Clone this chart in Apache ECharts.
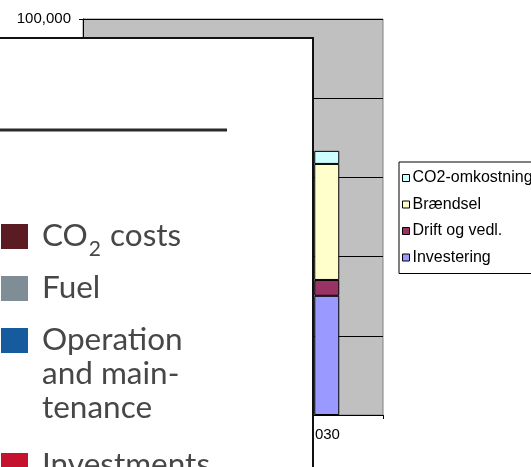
<!DOCTYPE html>
<html>
<head>
<meta charset="utf-8">
<script src="https://cdn.jsdelivr.net/npm/echarts@6/dist/echarts.min.js"></script>
<style>html,body{margin:0;padding:0;background:#fff}#c{width:531px;height:467px}</style>
</head>
<body>
<div id="c"></div>
<script>
// ---- data ----
const categories = ['', '', '', '', '', '', '2030', ''];
const investering = [null, null, null, null, null, null, 30100, null];
const driftOgVedl = [null, null, null, null, null, null, 4000, null];
const braendsel = [null, null, null, null, null, null, 29300, null];
const co2Omkostninger = [null, null, null, null, null, null, 3300, null];
const seriesNames = ['Investering', 'Drift og vedl.', 'Brændsel', 'CO2-omkostninger'];
const yMin = 0, yMax = 100000, yStep = 20000;
// labels of the pasted legend picture lying over the chart
const overlayLabels = [['CO', '2', ' costs'], 'Fuel', 'Operation\nand main-\ntenance', 'Investments'];
const overlayColors = ['#5b1b22', '#7e8d96', '#165b9d', '#c4122f'];

const chart = echarts.init(document.getElementById('c'), null, {renderer: 'canvas'});
const colors = ['#9999ff', '#993366', '#ffffcc', '#ccffff'];
const values = [investering, driftOgVedl, braendsel, co2Omkostninger];

const series = seriesNames.map((n, i) => ({
  name: n, type: 'bar', stack: 'total', data: values[i], barWidth: 25,
  itemStyle: {color: colors[i], borderColor: '#000', borderWidth: 1},
  emphasis: {disabled: true}
}));

// overlay graphics
const ovFont = 'Lato, "Open Sans", sans-serif';
const ovText = '#474747';
const ovSize = 31.5, subSize = 21;
const mctx = document.createElement('canvas').getContext('2d');
function tw(t, size) { mctx.font = size + 'px ' + ovFont; return mctx.measureText(t).width; }

const graphics = [
  {type: 'rect', z: 100, shape: {x: 0, y: 38, width: 313, height: 440}, style: {fill: '#fff'}},
  {type: 'line', z: 101, shape: {x1: 0, y1: 38, x2: 313, y2: 38}, style: {stroke: '#111', lineWidth: 2}},
  {type: 'line', z: 101, shape: {x1: 313, y1: 37, x2: 313, y2: 467}, style: {stroke: '#111', lineWidth: 2}},
  {type: 'rect', z: 101, shape: {x: 0, y: 128.5, width: 227, height: 3}, style: {fill: '#2a2a2a'}}
];
const rowTops = [224, 276, 328, 453];
const textLeft = 42;
overlayLabels.forEach((lab, i) => {
  const top = rowTops[i] - 5;
  graphics.push({type: 'rect', z: 101, shape: {x: 1, y: rowTops[i], width: 27, height: 25}, style: {fill: overlayColors[i]}});
  if (Array.isArray(lab)) {
    const w0 = tw(lab[0], ovSize), w1 = tw(lab[1], subSize);
    graphics.push({type: 'text', z: 102, x: textLeft, y: top,
      style: {text: lab[0], fontSize: ovSize, fontFamily: ovFont, fill: ovText, lineHeight: 34}});
    graphics.push({type: 'text', z: 102, x: textLeft + w0 + 1, y: rowTops[i] + 14.5,
      style: {text: lab[1], fontSize: subSize, fontFamily: ovFont, fill: ovText, lineHeight: 21}});
    graphics.push({type: 'text', z: 102, x: textLeft + w0 + w1 + 2, y: top,
      style: {text: lab[2], fontSize: ovSize, fontFamily: ovFont, fill: ovText, lineHeight: 34}});
  } else {
    graphics.push({type: 'text', z: 102, x: textLeft, y: top,
      style: {text: lab, fontSize: ovSize, fontFamily: ovFont, fill: ovText, lineHeight: 34}});
  }
});

chart.setOption({
  animation: false,
  textStyle: {fontFamily: '"Liberation Sans", Arial, sans-serif'},
  grid: {left: 83, top: 19, width: 300, height: 396, show: true, backgroundColor: '#c0c0c0', borderColor: '#808080', borderWidth: 1},
  legend: {
    orient: 'vertical', left: 399, top: 162,
    data: seriesNames.slice().reverse(),
    icon: 'rect', itemWidth: 7, itemHeight: 7, itemGap: 10.5,
    padding: [8, 40, 8, 3],
    borderColor: '#000', borderWidth: 1, backgroundColor: '#fff',
    itemStyle: {borderColor: '#000', borderWidth: 1},
    textStyle: {fontSize: 16, color: '#000', fontFamily: '"Liberation Sans", Arial, sans-serif', padding: [0, 0, 0, -2]},
    selectedMode: false
  },
  xAxis: {
    type: 'category', data: categories,
    axisLine: {lineStyle: {color: '#000', width: 1}},
    axisTick: {show: true, interval: 1, length: 4, lineStyle: {color: '#000'}},
    axisLabel: {interval: 1, fontSize: 15, color: '#000', margin: 12, padding: [0, 7, 0, 0]},
    splitLine: {show: false}
  },
  yAxis: {
    type: 'value', min: yMin, max: yMax, interval: yStep,
    axisLine: {show: true, lineStyle: {color: '#000'}},
    axisTick: {show: true, length: 4, lineStyle: {color: '#000'}},
    axisLabel: {fontSize: 15, color: '#000', margin: 12, formatter: v => v.toLocaleString('en-US')},
    splitLine: {show: true, lineStyle: {color: '#000', width: 1}}
  },
  series: series,
  graphic: graphics
});
</script>
</body>
</html>
